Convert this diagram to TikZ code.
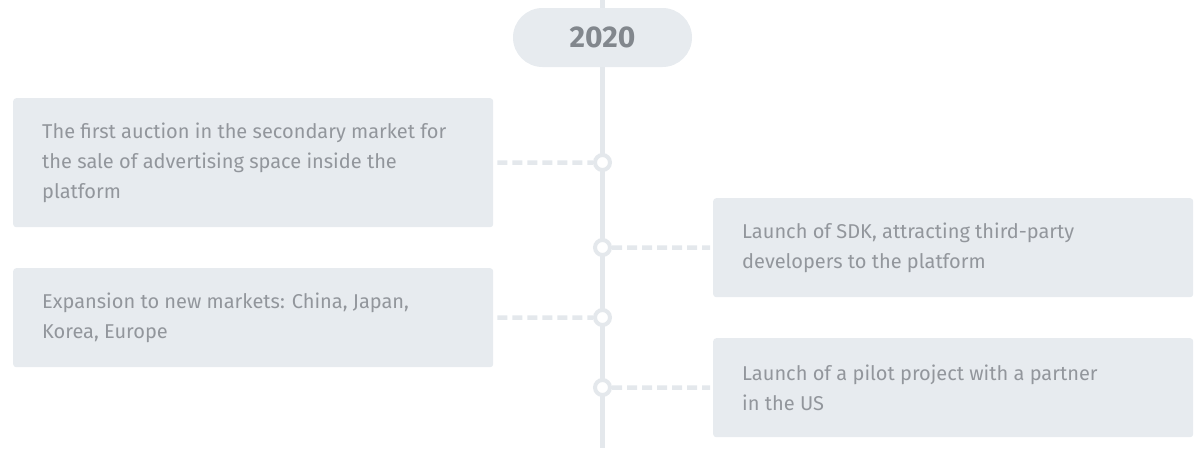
\documentclass[tikz,border=0pt]{standalone}
\usepackage{fontspec}
\setmainfont{Fira Sans}
\definecolor{boxfill}{HTML}{E7EBEF}
\definecolor{linecol}{HTML}{E4E8EC}
\definecolor{txt}{HTML}{92969C}
\definecolor{yeartxt}{HTML}{82878D}
\tikzset{
  card/.style={fill=boxfill, rounded corners=3pt, minimum width=480pt, anchor=north west, inner sep=0pt},
  cardtext/.style={text=txt, anchor=west, align=left, inner sep=0pt, font=\fontsize{20}{30}\selectfont},
  dot/.style={circle, draw=linecol, fill=white, line width=4pt, minimum size=15pt, inner sep=0pt},
  dashline/.style={draw=linecol, line width=4.5pt, dash pattern=on 10pt off 5pt},
  spine/.style={draw=linecol, line width=5pt},
  yearpill/.style={fill=boxfill, rounded corners=29.5pt, minimum width=179pt, minimum height=59pt, inner sep=0pt, text=yeartxt, font=\fontsize{30}{30}\selectfont\bfseries}
}
\begin{document}
\begin{tikzpicture}[x=1pt,y=-1pt]
\useasboundingbox (0,0) rectangle (1200,448);
\coordinate (top) at (602.5,0);
\coordinate (bot) at (602.5,448);
\draw[spine] (top) -- (bot);
\node[yearpill] (year) at (602.5,37.5) {2020};
% cards
\node[card, minimum height=129pt] (b1) at (13,98) {};
\node[card, minimum height=99pt] (b2) at (713,198) {};
\node[card, minimum height=99pt] (b3) at (13,268) {};
\node[card, minimum height=99pt] (b4) at (713,338) {};
\node[cardtext] (t1) at (42,162.5) {The first auction in the secondary market for\\the sale of advertising space inside the\\platform};
\node[cardtext] (t2) at (742,247.5) {Launch of SDK, attracting third-party\\developers to the platform};
\node[cardtext] (t3) at (42,317.5) {Expansion to new markets: China, Japan,\\Korea, Europe};
\node[cardtext] (t4) at (742,387.5) {Launch of a pilot project with a partner\\in the US};
% dots
\node[dot] (c1) at (602.5,162.5) {};
\node[dot] (c2) at (602.5,247.5) {};
\node[dot] (c3) at (602.5,317.5) {};
\node[dot] (c4) at (602.5,387.5) {};
\draw[dashline] ([xshift=4pt]b1.east) -- (c1);
\draw[dashline] (c2) -- ([xshift=-3pt]b2.west);
\draw[dashline] ([xshift=4pt]b3.east) -- (c3);
\draw[dashline] (c4) -- ([xshift=-3pt]b4.west);
\end{tikzpicture}
\end{document}
